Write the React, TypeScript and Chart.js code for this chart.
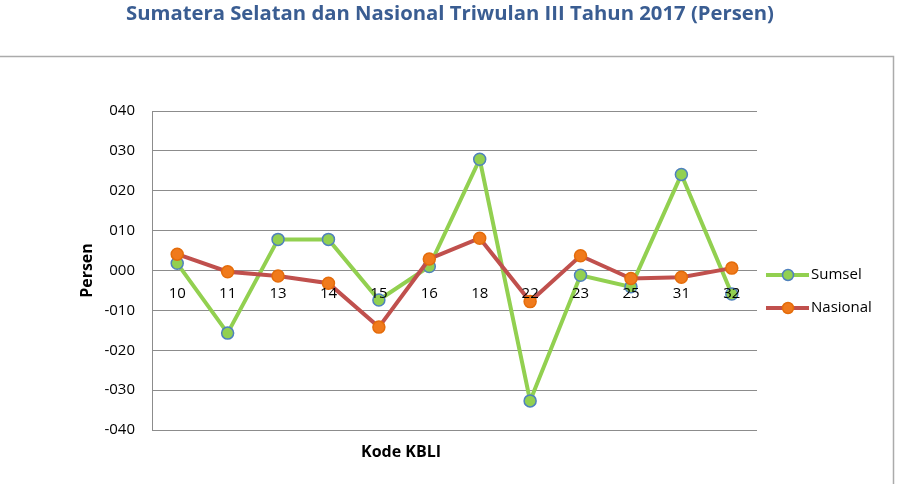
import { useEffect, useRef } from 'react';
import { Chart, registerables } from 'chart.js';

Chart.register(...registerables);

// KBLI industry codes on the category axis
const categories = ['10', '11', '13', '14', '15', '16', '18', '22', '23', '25', '31', '32'];

// Growth (percent) per industry code
const sumsel = [1.8, -15.7, 7.8, 7.8, -7.4, 1.0, 27.9, -32.7, -1.2, -4.1, 24.1, -5.9];
const nasional = [4.1, -0.3, -1.4, -3.2, -14.2, 2.9, 8.1, -7.8, 3.7, -2.0, -1.7, 0.6];

const yMin = -40;
const yMax = 40;
const yStep = 10;

const titleText = 'Sumatera Selatan dan Nasional Triwulan III Tahun 2017 (Persen)';
const yTitle = 'Persen';
const xTitle = 'Kode KBLI';
const seriesNames = ['Sumsel', 'Nasional'];

const FONT = '"Open Sans", Lato, sans-serif';
const GREEN = '#92D050';
const GREEN_EDGE = '#4F81BD';
const RED = '#C0504D';
const ORANGE = '#F07A1C';
const ORANGE_EDGE = '#E46C0A';
const GRID = '#8C8C8C';

const formatTick = (v: number) => (v < 0 ? '-' : '') + String(Math.abs(v)).padStart(3, '0');

const decorations = {
  id: 'decorations',
  beforeDraw(chart: any) {
    const { ctx, width, height } = chart;
    ctx.save();
    ctx.fillStyle = '#ffffff';
    ctx.fillRect(0, 0, width, height);
    // outer chart frame (top and right edges visible)
    ctx.strokeStyle = '#ABABAB';
    ctx.lineWidth = 1.5;
    ctx.beginPath();
    ctx.moveTo(0, 56.5);
    ctx.lineTo(893.5, 56.5);
    ctx.lineTo(893.5, height);
    ctx.stroke();
    ctx.restore();
  },
  afterDatasetsDraw(chart: any) {
    const { ctx } = chart;
    const x = chart.scales.x;
    const y = chart.scales.y;
    const zeroY = y.getPixelForValue(0);
    ctx.save();
    ctx.fillStyle = '#000000';
    ctx.font = `15px ${FONT}`;
    ctx.textAlign = 'center';
    ctx.textBaseline = 'middle';
    categories.forEach((c, i) => {
      ctx.fillText(c, x.getPixelForValue(i), zeroY + 23);
    });
    ctx.restore();
  },
  afterDraw(chart: any) {
    const { ctx, chartArea } = chart;
    ctx.save();
    // title, sized to span 650px
    ctx.font = `bold 20px ${FONT}`;
    const w = ctx.measureText(titleText).width;
    const size = Math.min(22, Math.max(17, (20 * 650) / w));
    ctx.fillStyle = '#3A5D92';
    ctx.font = `bold ${size.toFixed(1)}px ${FONT}`;
    ctx.textAlign = 'center';
    ctx.textBaseline = 'middle';
    ctx.fillText(titleText, 450, 14);

    // axis titles
    ctx.fillStyle = '#000000';
    ctx.font = `bold 16px ${FONT}`;
    ctx.fillText(xTitle, 401, 452);
    ctx.save();
    ctx.translate(87, (chartArea.top + chartArea.bottom) / 2);
    ctx.rotate(-Math.PI / 2);
    ctx.fillText(yTitle, 0, 0);
    ctx.restore();

    // legend
    const items = [
      { label: seriesNames[0], line: GREEN, fill: GREEN, edge: GREEN_EDGE, y: 275 },
      { label: seriesNames[1], line: RED, fill: ORANGE, edge: ORANGE_EDGE, y: 308 },
    ];
    items.forEach((it) => {
      ctx.strokeStyle = it.line;
      ctx.lineWidth = 4;
      ctx.beginPath();
      ctx.moveTo(766, it.y);
      ctx.lineTo(809, it.y);
      ctx.stroke();
      ctx.beginPath();
      ctx.arc(788, it.y, 5.5, 0, Math.PI * 2);
      ctx.fillStyle = it.fill;
      ctx.fill();
      ctx.strokeStyle = it.edge;
      ctx.lineWidth = 1.5;
      ctx.stroke();
      ctx.fillStyle = '#000000';
      ctx.font = `15px ${FONT}`;
      ctx.textAlign = 'left';
      ctx.textBaseline = 'middle';
      ctx.fillText(it.label, 811, it.y);
    });
    ctx.restore();
  },
};

export default function App() {
  const canvasRef = useRef<HTMLCanvasElement | null>(null);

  useEffect(() => {
    const canvas = canvasRef.current;
    if (!canvas) return;
    const chart = new Chart(canvas, {
      type: 'line',
      data: {
        labels: categories,
        datasets: [
          {
            label: seriesNames[1],
            data: nasional,
            borderColor: RED,
            borderWidth: 4,
            pointRadius: 6,
            pointBackgroundColor: ORANGE,
            pointBorderColor: ORANGE_EDGE,
            pointBorderWidth: 1.5,
            tension: 0,
            order: 1,
          },
          {
            label: seriesNames[0],
            data: sumsel,
            borderColor: GREEN,
            borderWidth: 4,
            pointRadius: 6,
            pointBackgroundColor: GREEN,
            pointBorderColor: GREEN_EDGE,
            pointBorderWidth: 1.5,
            tension: 0,
            order: 2,
          },
        ],
      },
      options: {
        responsive: false,
        animation: false,
        events: [],
        layout: { padding: { left: 0, top: 111, right: 144, bottom: 54 } },
        plugins: {
          legend: { display: false },
          title: { display: false },
          tooltip: { enabled: false },
        },
        scales: {
          x: {
            type: 'category',
            offset: true,
            display: false,
          },
          y: {
            min: yMin,
            max: yMax,
            afterFit: (s: any) => {
              s.width = 152;
            },
            ticks: {
              stepSize: yStep,
              padding: 17,
              color: '#000000',
              font: { family: FONT, size: 15 },
              callback: (v: any) => formatTick(Number(v)),
            },
            grid: { color: GRID, lineWidth: 1, drawTicks: false },
            border: { display: true, color: GRID, width: 1 },
          },
        },
      },
      plugins: [decorations],
    });
    return () => chart.destroy();
  }, []);

  return (
    <div style={{ position: 'absolute', left: 0, top: 0, width: 901, height: 484, background: '#fff' }}>
      <canvas ref={canvasRef} width={901} height={484} style={{ display: 'block' }} />
    </div>
  );
}
